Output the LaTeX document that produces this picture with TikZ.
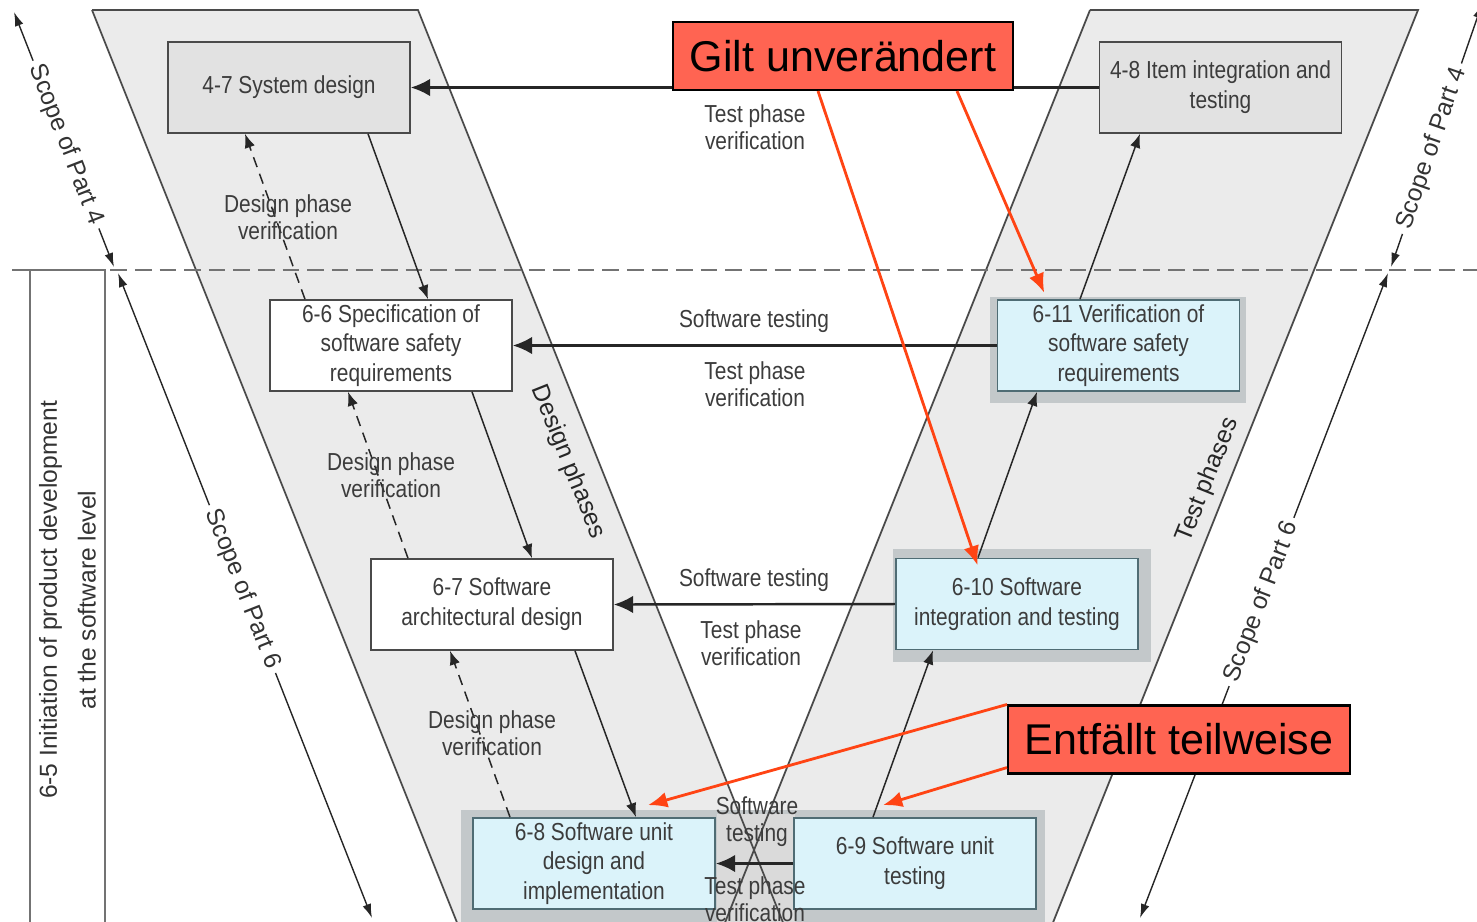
\documentclass[tikz,border=0pt]{standalone}
\usepackage{fontspec}
\setmainfont{Liberation Sans}
\newfontfamily\narrowfont[FakeStretch=0.85]{Liberation Sans}
\usepackage{xcolor}
\usepackage{tikz}
\usetikzlibrary{arrows.meta}

\definecolor{bandgray}{HTML}{EBEBEB}
\definecolor{boxgray}{HTML}{E2E2E2}
\definecolor{edgegray}{HTML}{4A4A4A}
\definecolor{txtgray}{HTML}{3C3C3C}
\definecolor{swblue}{HTML}{DBF3FA}
\definecolor{swedge}{HTML}{4F6C74}
\definecolor{frmgray}{HTML}{C3C8CA}
\definecolor{gapgray}{HTML}{DADADA}
\definecolor{notered}{HTML}{FF6452}
\definecolor{arrred}{HTML}{FF4414}

\begin{document}
\begin{tikzpicture}[
  x=0.02cm, y=-0.02cm,
  band/.style={fill=bandgray},
  bandedge/.style={draw=edgegray, line width=1pt},
  box/.style={draw=edgegray, line width=0.9pt, minimum width=4.84cm,
              minimum height=1.82cm, inner sep=1pt, align=center,
              font=\narrowfont\fontsize{14}{17}\selectfont, text=txtgray},
  sysbox/.style={box, fill=boxgray},
  reqbox/.style={box, fill=white},
  swbox/.style={box, draw=swedge, line width=1pt, fill=swblue},
  initbox/.style={draw=black!55, line width=0.9pt, rotate=90, align=center,
                  minimum width=13.2cm, minimum height=1.5cm, inner sep=0pt,
                  font=\fontsize{14}{22}\selectfont, text=black!80},
  lbl/.style={font=\narrowfont\fontsize{14}{15.5}\selectfont, text=txtgray,
              align=center, inner sep=1pt},
  scope/.style={font=\fontsize{14}{16}\selectfont, text=black!80,
                fill=white, inner sep=3pt},
  phase/.style={font=\fontsize{14}{16}\selectfont, text=black!85},
  note/.style={draw=black, line width=1.2pt, fill=notered,
               font=\fontsize{24.5}{28}\selectfont, minimum height=1.36cm},
  harr/.style={-{Latex[length=11pt,width=10pt]}, line width=1.4pt, draw=black!85},
  arr/.style={-{Latex[length=8pt,width=6pt]}, line width=0.85pt, draw=black!85},
  darr/.style={arr, dash pattern=on 6pt off 4pt},
  sarr/.style={{Latex[length=8pt,width=5pt]}-{Latex[length=8pt,width=5pt]},
               line width=0.8pt, draw=black!85},
  redarr/.style={-{Latex[length=11pt,width=9pt]}, line width=1.6pt, draw=arrred},
]
\useasboundingbox (0,0) rectangle (1477,921);
\clip (0,0) rectangle (1477,921);

% --- V bands (design left, test right) ---
\fill[band] (92,10) -- (418,10) -- (794,950) -- (468,950) -- cycle;
\fill[band] (1090,10) -- (1418,10) -- (1042,950) -- (714,950) -- cycle;

% frames round the software boxes
\fill[frmgray] (990,297) rectangle (1246,403);
\fill[frmgray] (893,549) rectangle (1151,662);
\fill[frmgray] (461,810) rectangle (1045,930);
\fill[gapgray] (717,814) rectangle (795,930);

\draw[bandedge] (92,10) -- (418,10) -- (794,950);
\draw[bandedge] (92,10) -- (468,950);
\draw[bandedge] (1090,10) -- (1418,10) -- (1042,950);
\draw[bandedge] (1090,10) -- (714,950);

% --- border between part 4 and part 6 ---
\draw[black!55, line width=1.1pt, dash pattern=on 9.5pt off 4.5pt] (12,270) -- (1477,270);

% --- 6-5 side box ---
\node[initbox] (s65) at (67.5,600)
  {6-5 Initiation of product development\\at the software level};

% --- Phase boxes ---
\node[sysbox] (s47)  at (289,87.5)    {4-7 System design};
\node[sysbox] (s48)  at (1220.5,87.5) {4-8 Item integration and\\testing};
\node[reqbox] (s66)  at (391,345.5)   {6-6 Specification of\\software safety\\requirements};
\node[reqbox] (s67)  at (492,604.5)   {6-7 Software\\architectural design};
\node[swbox]  (s68)  at (594,863.5)   {6-8 Software unit\\design and\\implementation};
\node[swbox]  (s69)  at (915,863.5)   {6-9 Software unit\\testing};
\node[swbox]  (s610) at (1017,604)    {6-10 Software\\integration and testing};
\node[swbox]  (s611) at (1118.5,345.5){6-11 Verification of\\software safety\\requirements};

% --- Design flow (down) ---
\draw[arr] (368,0 |- s47.south) -- (428,0 |- s66.north);
\draw[arr] (472,0 |- s66.south) -- (532,0 |- s67.north);
\draw[arr] (575,0 |- s67.south) -- (636,0 |- s68.north);

% --- Test flow (up) ---
\draw[arr] (873,0 |- s69.north)  -- (933,0 |- s610.south);
\draw[arr] (978,0 |- s610.north) -- (1037,0 |- s611.south);
\draw[arr] (1080,0 |- s611.north) -- (1140,0 |- s48.south);

% --- Design phase verification (dashed) ---
\draw[darr] (305,0 |- s66.north) -- (245,0 |- s47.south);
\draw[darr] (408,0 |- s67.north) -- (348,0 |- s66.south);
\draw[darr] (510,0 |- s68.north) -- (450,0 |- s67.south);

\node[lbl] (dv1) at (288,217) {Design phase\\verification};
\node[lbl] (dv2) at (391,475) {Design phase\\verification};
\node[lbl] (dv3) at (492,733) {Design phase\\verification};

% --- Test phase verification (horizontal) ---
\draw[harr] (s48.west)  -- (s47.east);
\draw[harr] (s611.west) -- (s66.east);
\draw[harr] (s610.west) -- (s67.east);
\draw[harr] (s69.west)  -- (s68.east);

\node[lbl] (tv1) at (755,127) {Test phase\\verification};
\node[lbl] (st2) at (754,321) {Software testing};
\node[lbl] (tv2) at (755,384) {Test phase\\verification};
\node[lbl] (st3) at (754,580) {Software testing};
\node[lbl] (tv3) at (751,643) {Test phase\\verification};
\node[lbl] (st4) at (757,822) {Software\\testing};
\node[lbl] (tv4) at (755,899) {Test phase\\verification};

% --- Band labels ---
\node[phase, rotate=-68.2] (dph) at (568,462)  {Design phases};
\node[phase, rotate=68.2]  (tph) at (1208,480) {Test phases};

% --- Scope arrows ---
\coordinate (l4a) at (14,12);
\coordinate (l4b) at (114,267);
\coordinate (l6a) at (118,273);
\coordinate (l6b) at (372,918);
\coordinate (r4a) at (1391,267);
\coordinate (r4b) at (1482,4);
\coordinate (r6a) at (1388,273);
\coordinate (r6b) at (1140,918);

\draw[sarr] (l4a) -- node[scope, pos=0.52, rotate=-68.8] (l4t) {Scope of Part 4} (l4b);
\draw[sarr] (l6a) -- node[scope, pos=0.49, rotate=-68.5] (l6t) {Scope of Part 6} (l6b);
\draw[sarr] (r4a) -- node[scope, pos=0.45, rotate=71]    (r4t) {Scope of Part 4} (r4b);
\draw[sarr] (r6b) -- node[scope, pos=0.49, rotate=69]    (r6t) {Scope of Part 6} (r6a);

% --- Notes ---
\node[note, minimum width=6.8cm]  (gilt) at (843,56)     {Gilt unverändert};
\node[note, minimum width=6.84cm] (ent)  at (1179,739.5) {Entfällt teilweise};

\draw[redarr, shorten >=-0.16cm] (818,0 |- gilt.south) -- (975,0 |- s610.north);
\draw[redarr, shorten >=0.14cm]  (957,0 |- gilt.south) -- (1047,0 |- s611.north);
\draw[redarr] (ent.north west) -- ([xshift=1.08cm,yshift=0.24cm]s68.north);
\draw[redarr] ([yshift=0.14cm]ent.south west) -- ([xshift=-0.64cm,yshift=0.24cm]s69.north);
\end{tikzpicture}
\end{document}
